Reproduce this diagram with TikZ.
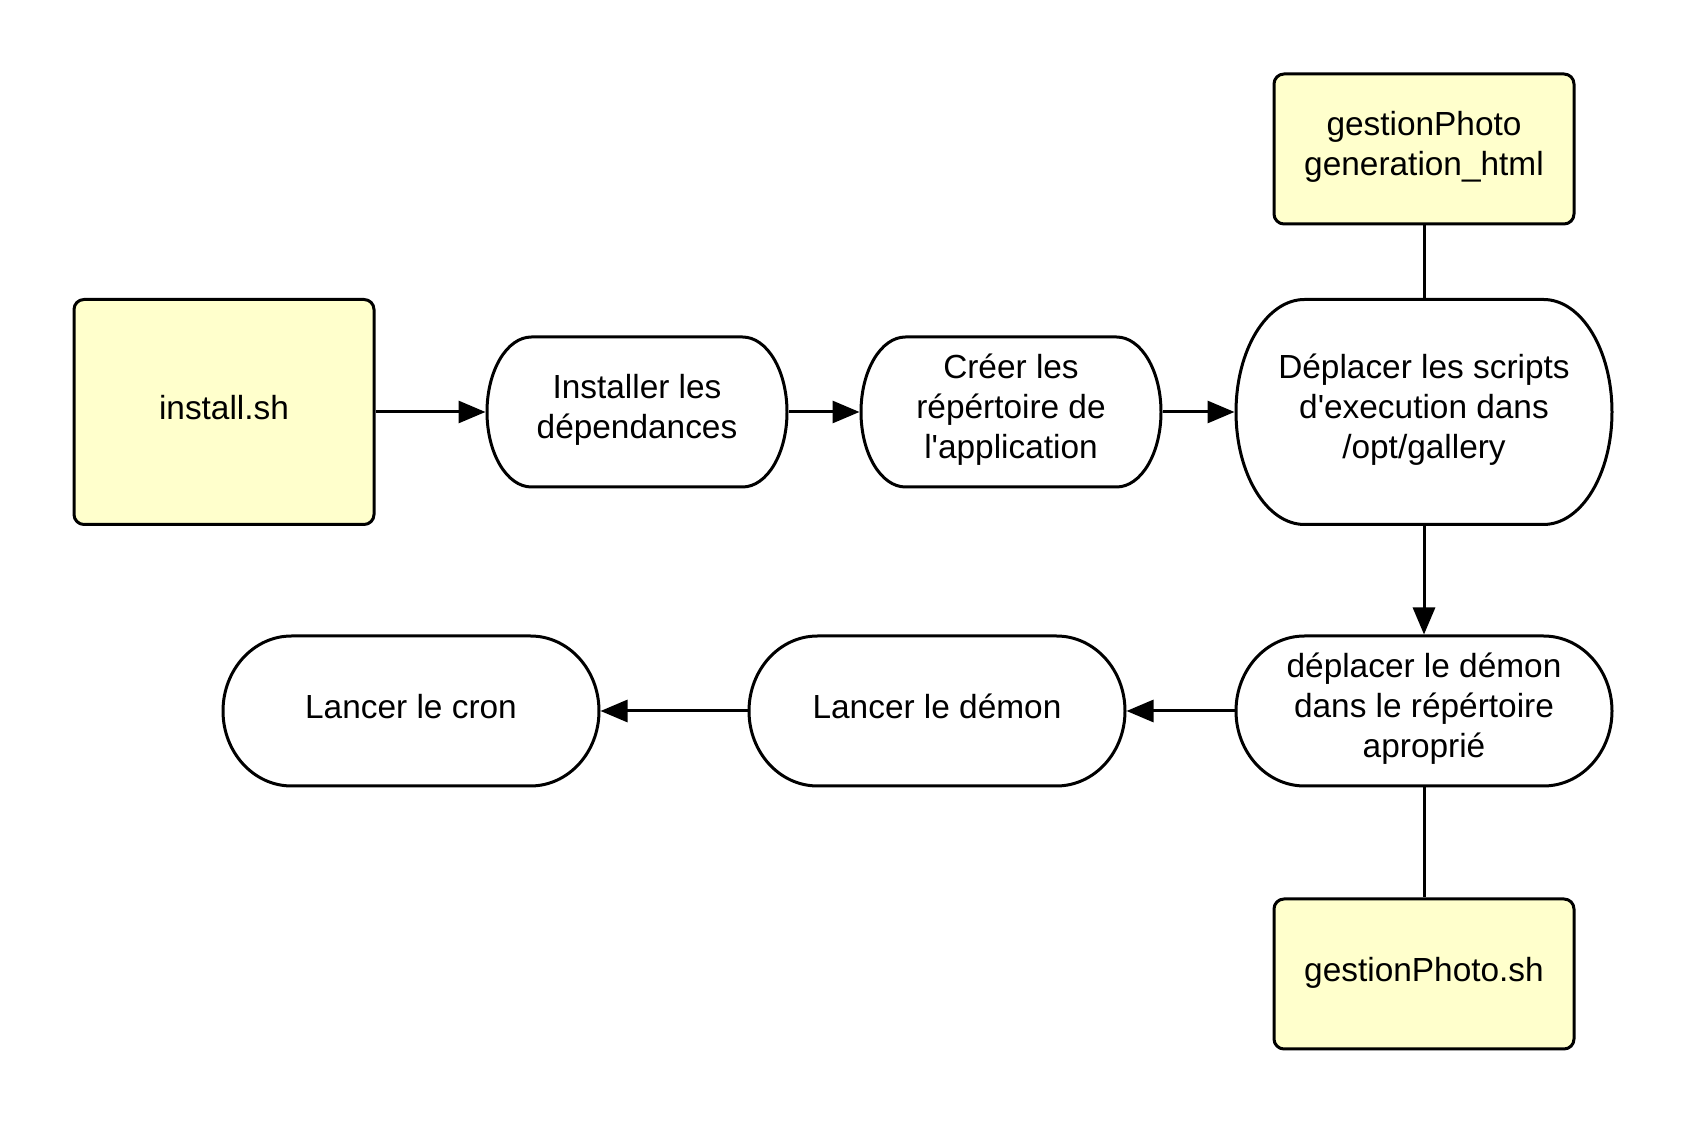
\documentclass[tikz,border=0pt]{standalone}
\usepackage{fontspec}
\setmainfont{Liberation Sans}
\usepackage{tikz}
\usetikzlibrary{arrows.meta,calc}

\definecolor{scriptyellow}{HTML}{FFFFCC}

% stadium outline round a node: name, horizontal radius of the ends
\newcommand{\stadium}[2]{%
	\draw[line] let \p1=(#1.north), \p2=(#1.south), \n1={(\y1-\y2)/2-0.75pt} in
	([xshift=#2,yshift=-0.75pt]#1.north west) -- ([xshift=-#2,yshift=-0.75pt]#1.north east)
	arc[start angle=90, end angle=-90, x radius=#2-0.75pt, y radius=\n1]
	-- ([xshift=#2,yshift=0.75pt]#1.south west)
	arc[start angle=270, end angle=90, x radius=#2-0.75pt, y radius=\n1] -- cycle;}

\begin{document}
\begin{tikzpicture}[x=0.5pt,y=0.5pt,
		line/.style={line width=1.5pt},
		flow/.style={line,-{Triangle[length=13.5pt,width=11pt]}},
		script/.style={line,draw,fill=scriptyellow,rounded corners=5pt,
			minimum width=150pt,minimum height=75pt,align=center,
			execute at begin node=\strut,execute at end node=\strut,
			font=\fontsize{16.7pt}{20pt}\selectfont},
		task/.style={draw=none,outer sep=0pt,minimum width=151.5pt,minimum height=76.5pt,
			align=center,execute at begin node=\strut,execute at end node=\strut,
			font=\fontsize{16.7pt}{20pt}\selectfont}
		]
		\useasboundingbox (0,0) rectangle (1688,1125);
		%Top row
		\path (224,713) node[script,minimum height=112.5pt] (install) {install.sh}
		+(413,0) node[task] (dep) {Installer les\\d\'ependances}
		+(787,0) node[task] (rep) {Cr\'eer les\\r\'ep\'ertoire de\\l\textquotesingle application}
		+(1200,0) node[task,minimum width=189.5pt,minimum height=114pt] (scripts) {D\'eplacer les scripts\\d\textquotesingle execution dans\\/opt/gallery}
		+(1200,263) node[script] (html) {gestionPhoto\\generation\_html};
		%Bottom row
		\path (1424,414) node[task,minimum width=189.5pt] (demon) {d\'eplacer le d\'emon\\dans le r\'ep\'ertoire\\apropri\'e}
		+(-487,0) node[task,minimum width=189.5pt] (lancer) {Lancer le d\'emon}
		+(-1013,0) node[task,minimum width=189.5pt] (cron) {Lancer le cron}
		+(0,-263) node[script] (gsh) {gestionPhoto.sh};
		
		\stadium{dep}{23pt}
		\stadium{rep}{23pt}
		\stadium{scripts}{35pt}
		\stadium{demon}{35pt}
		\stadium{lancer}{35pt}
		\stadium{cron}{35pt}
		
		\draw[flow] (install.east) -- (dep.west);
		\draw[flow] (dep.east) -- (rep.west);
		\draw[flow] (rep.east) -- (scripts.west);
		\draw[line] (html.south) -- (scripts.north);
		\draw[flow] (scripts.south) -- (demon.north);
		\draw[flow] (demon.west) -- (lancer.east);
		\draw[flow] (lancer.west) -- (cron.east);
		\draw[line] (demon.south) -- (gsh.north);
	\end{tikzpicture}
\end{document}
